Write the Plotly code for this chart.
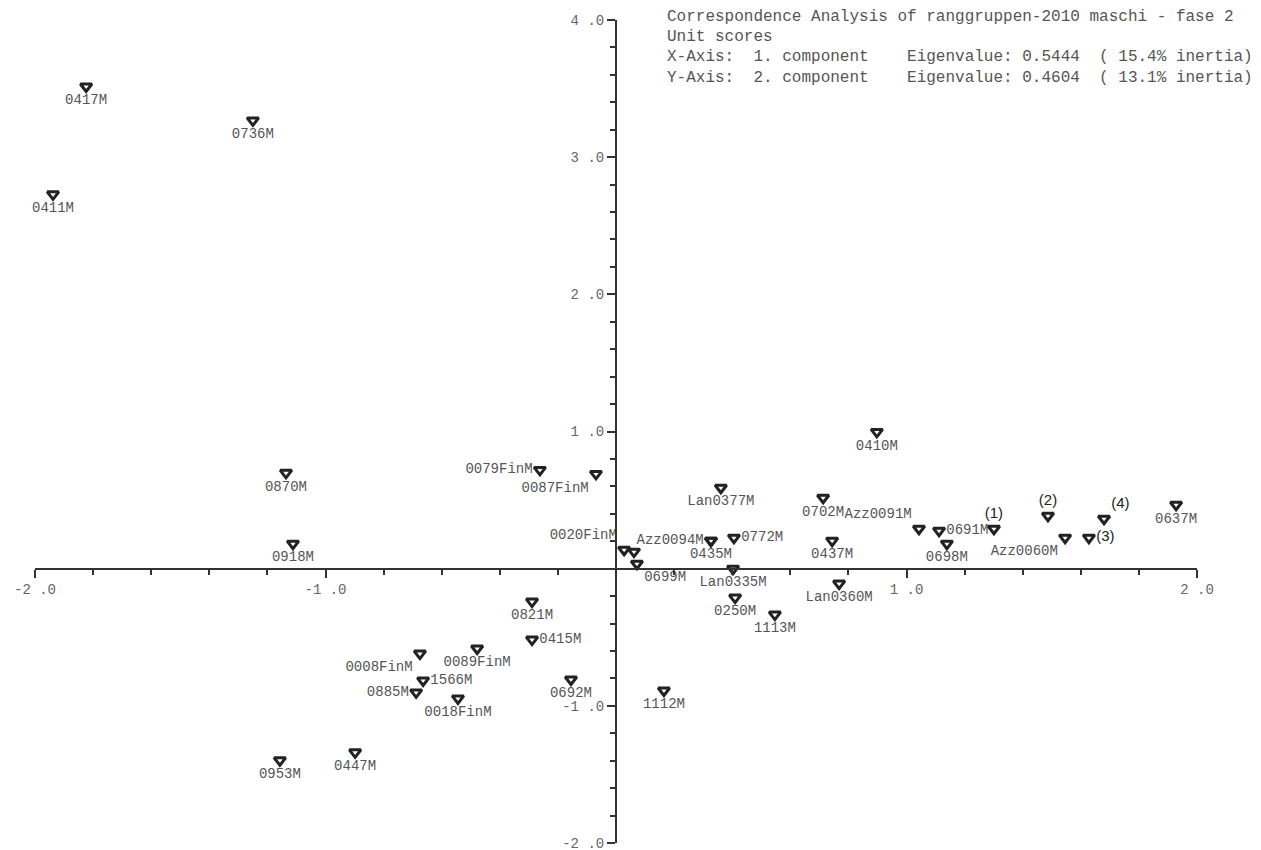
import plotly.graph_objects as go

# ---- data (unit scores) ----
names = ["0417M", "0736M", "0411M", "0870M", "0918M", "0079FinM", "0087FinM",
         "Lan0377M", "0702M", "0410M", "Azz0091M", "0691M", "0698M", "0637M",
         "0437M", "0772M", "Azz0094M", "0435M", "", "0020FinM", "0699M",
         "Lan0335M", "0250M", "1113M", "Lan0360M", "Azz0060M", "1112M", "0692M",
         "0821M", "0415M", "0089FinM", "0008FinM", "1566M", "0885M", "0018FinM",
         "0447M", "0953M"]
x_vals = [-1.824, -1.250, -1.938, -1.136, -1.112, -0.262, -0.069,
          0.361, 0.713, 0.898, 1.043, 1.112, 1.139, 1.928,
          0.744, 0.406, 0.327, 0.327, 0.062, 0.028, 0.072,
          0.403, 0.410, 0.547, 0.768, 1.546, 0.165, -0.155,
          -0.289, -0.289, -0.478, -0.675, -0.664, -0.688, -0.544,
          -0.898, -1.157]
y_vals = [3.515, 3.268, 2.729, 0.699, 0.182, 0.720, 0.691,
          0.590, 0.517, 0.997, 0.291, 0.277, 0.182, 0.466,
          0.204, 0.226, 0.204, 0.204, 0.124, 0.138, 0.036,
          0.000, -0.211, -0.335, -0.109, 0.226, -0.888, -0.808,
          -0.240, -0.517, -0.582, -0.619, -0.815, -0.902, -0.946,
          -1.339, -1.397]
label_pos = ["bottom center", "bottom center", "bottom center", "bottom center", "bottom center",
             "middle left", "bottom left",
             "bottom center", "bottom center", "bottom center", "top left", "middle right",
             "bottom center", "bottom center",
             "bottom center", "middle right", "middle left", "bottom center", "bottom center",
             "top left", "bottom right",
             "bottom center", "bottom center", "bottom center", "bottom center", "bottom left",
             "bottom center", "bottom center",
             "bottom center", "middle right", "bottom center", "bottom left", "middle right",
             "middle left", "bottom center",
             "bottom center", "bottom center"]

# numbered group points
num_names = ["(1)", "(2)", "(3)", "(4)"]
num_x = [1.301, 1.487, 1.628, 1.680]
num_y = [0.291, 0.386, 0.226, 0.364]
num_pos = ["top center", "top center", "middle right", "top right"]

x_ticks = [-2, -1, 1, 2]
x_tick_text = ["-2 .0", "-1 .0", "1 .0", "2 .0"]
y_ticks = [-2, -1, 1, 2, 3, 4]
y_tick_text = ["-2 .0", "-1 .0", "1 .0", "2 .0", "3 .0", "4 .0"]

header_lines = [
    "Correspondence Analysis of ranggruppen-2010 maschi - fase 2",
    "Unit scores",
    "X-Axis:  1. component    Eigenvalue: 0.5444  ( 15.4% inertia)",
    "Y-Axis:  2. component    Eigenvalue: 0.4604  ( 13.1% inertia)",
]

MONO = "Liberation Mono"
TXT = "#555555"
INK = "#222222"

fig = go.Figure()
fig.add_trace(go.Scatter(
    x=x_vals, y=y_vals, mode="markers+text", text=names, textposition=label_pos,
    textfont=dict(family=MONO, size=14, color=TXT),
    marker=dict(symbol="triangle-down-open", size=10, color=INK, line=dict(width=3, color=INK)),
    cliponaxis=False, hoverinfo="text", showlegend=False))
fig.add_trace(go.Scatter(
    x=num_x, y=num_y, mode="markers+text", text=num_names, textposition=num_pos,
    textfont=dict(family="Liberation Sans", size=15, color="#222222"),
    marker=dict(symbol="triangle-down-open", size=10, color=INK, line=dict(width=3, color=INK)),
    cliponaxis=False, hoverinfo="text", showlegend=False))

for i, line in enumerate(header_lines):
    fig.add_annotation(xref="paper", yref="paper", x=0.542, y=1.004 - i * 0.0247,
                       xanchor="left", yanchor="middle", showarrow=False, text=line,
                       font=dict(family=MONO, size=16, color=TXT))

axis_common = dict(showgrid=False, zeroline=False, showline=True, linecolor="#333333",
                   linewidth=2, ticks="outside", ticklen=8, tickwidth=2, tickcolor="#333333",
                   tickfont=dict(family=MONO, size=14, color="#666666"),
                   ticklabeloverflow="allow", automargin=False,
                   minor=dict(tick0=0, dtick=0.2, ticks="outside", ticklen=5, tickwidth=2,
                              tickcolor="#333333", showgrid=False),
                   tickmode="array", anchor="free")

# page body adds an 8px margin, so the figure is made 8px smaller on each axis
fig.update_layout(
    width=1253, height=842,
    margin=dict(l=27, r=64, t=12, b=7),
    paper_bgcolor="white", plot_bgcolor="white",
    showlegend=False,
    xaxis=dict(range=[-2, 2], tickvals=x_ticks, ticktext=x_tick_text, position=1/3,
               side="bottom", **axis_common),
    yaxis=dict(range=[-2, 4], tickvals=y_ticks, ticktext=y_tick_text, position=0.5,
               side="left", **axis_common),
)

fig.write_html("out.html")
